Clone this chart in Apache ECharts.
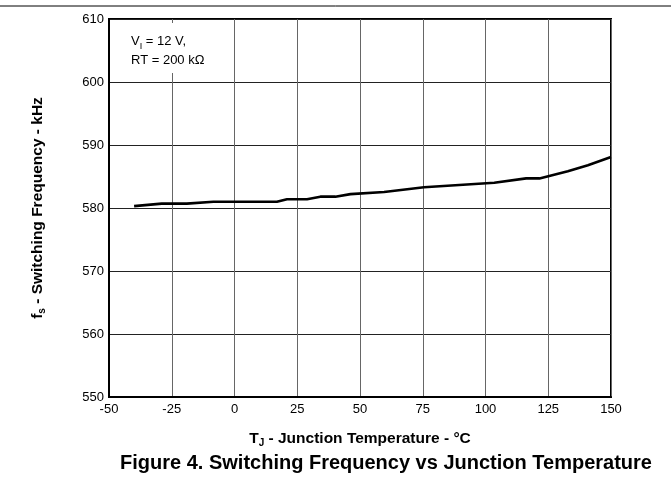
<!DOCTYPE html>
<html>
<head>
<meta charset="utf-8">
<script src="https://cdn.jsdelivr.net/npm/echarts@6/dist/echarts.min.js"></script>
<style>
html,body{margin:0;padding:0;background:#fff;}
#c{width:671px;height:478px;}
</style>
</head>
<body>
<div id="c"></div>
<script>
const temps = [-40, -29, -19, -8.4, 16.9, 20.9, 28.9, 34.2, 40.2, 46.2, 59.6, 75.5, 103.5, 116.2, 121.5, 132.8, 140.8, 150];
const freqs = [580.3, 580.7, 580.7, 581.0, 581.0, 581.4, 581.4, 581.8, 581.8, 582.2, 582.55, 583.3, 584.0, 584.7, 584.7, 585.85, 586.8, 588.1];
const xTicks = [-50, -25, 0, 25, 50, 75, 100, 125, 150];
const yTicks = [550, 560, 570, 580, 590, 600, 610];

const chart = echarts.init(document.getElementById('c'), null, {renderer: 'canvas'});
const font = 'Liberation Sans, Arial, sans-serif';
const nameRich = {
  b: {fontFamily: font, fontSize: 15.5, fontWeight: 'bold', color: '#000'},
  s: {fontFamily: font, fontSize: 10, fontWeight: 'bold', color: '#000', verticalAlign: 'bottom', padding: [9, 0, 0, 0]}
};
chart.setOption({
  animation: false,
  grid: {left: 109, right: 60, top: 19, bottom: 81, show: true, borderColor: '#000', borderWidth: 2, backgroundColor: 'transparent'},
  xAxis: {
    type: 'value', min: xTicks[0], max: xTicks[xTicks.length - 1], interval: 25,
    axisLine: {show: true, onZero: false, lineStyle: {color: '#000', width: 2}},
    axisTick: {show: false},
    axisLabel: {color: '#000', fontFamily: font, fontSize: 13, margin: 6},
    splitLine: {show: true, lineStyle: {color: '#666', width: 1}},
    name: '{b|T}{s|J}{b| - Junction Temperature - °C}',
    nameLocation: 'middle', nameGap: 32,
    nameTextStyle: {rich: nameRich}
  },
  yAxis: {
    type: 'value', min: yTicks[0], max: yTicks[yTicks.length - 1], interval: 10,
    axisLine: {show: true, onZero: false, lineStyle: {color: '#000', width: 2}},
    axisTick: {show: false},
    axisLabel: {color: '#000', fontFamily: font, fontSize: 13, margin: 5},
    splitLine: {show: true, lineStyle: {color: '#222', width: 1}},
    name: '{b|f}{s|s}{b| - Switching Frequency - kHz}',
    nameLocation: 'middle', nameGap: 62,
    nameTextStyle: {rich: nameRich}
  },
  series: [{
    type: 'line',
    data: temps.map((t, i) => [t, freqs[i]]),
    showSymbol: false,
    lineStyle: {color: '#000', width: 2.6},
    z: 5
  }],
  graphic: [
    {type: 'line', shape: {x1: 0, y1: 6, x2: 671, y2: 6}, style: {stroke: '#000', lineWidth: 1}},
    {type: 'rect', shape: {x: 112, y: 23, width: 120, height: 50}, style: {fill: '#fff'}, z: 3},
    {type: 'text', left: 131, top: 35, z: 4, style: {
      text: '{n|V}{s|I}{n| = 12 V,}\n{n|RT = 200 kΩ}',
      rich: {
        n: {fontFamily: font, fontSize: 13, color: '#000', lineHeight: 19},
        s: {fontFamily: font, fontSize: 9, color: '#000', verticalAlign: 'bottom', padding: [6, 0, 0, 0], lineHeight: 19}
      }
    }},
    {type: 'text', x: 386, y: 463, style: {
      text: 'Figure 4. Switching Frequency vs Junction Temperature',
      align: 'center', verticalAlign: 'middle',
      font: 'bold 20px Liberation Sans, Arial, sans-serif', fill: '#000'
    }}
  ]
});
</script>
</body>
</html>
